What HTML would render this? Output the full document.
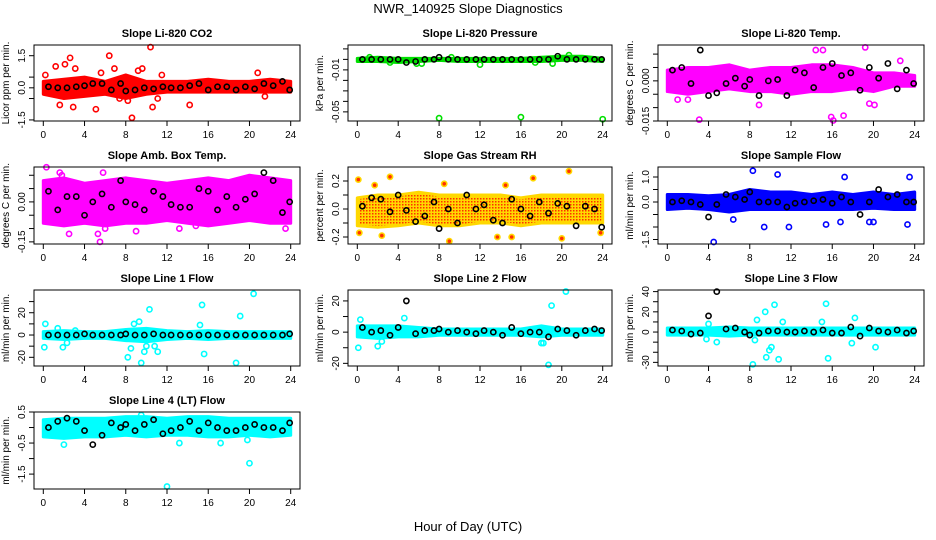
<!DOCTYPE html>
<html><head><meta charset="utf-8"><style>
body{margin:0;background:#fff}
svg{display:block;font-family:"Liberation Sans",sans-serif}
.tl{font-size:10px}
.tt{font-size:11px;font-weight:bold}
</style></head><body>
<svg id="c" width="936" height="540" viewBox="0 0 936 540">
<defs><pattern id="rhp" width="3" height="3" patternUnits="userSpaceOnUse"><rect width="3" height="3" fill="#ffd800"/><rect width="1.5" height="1.5" fill="#ff3000"/></pattern></defs>
<text x="468" y="13" text-anchor="middle" font-size="13">NWR_140925  Slope Diagnostics</text>
<text x="468" y="531" text-anchor="middle" font-size="13">Hour of Day (UTC)</text>
</svg>
<script>
const xTicks=[0,4,8,12,16,20,24];
const bandX=[0,2,4,6,8,10,12,14,16,18,20,22,24];
const blackX=[0.5,1.4,2.3,3.2,4.0,4.8,5.7,6.6,7.5,8.0,8.9,9.8,10.7,11.6,12.4,13.3,14.2,15.1,16.0,16.9,17.8,18.7,19.6,20.5,21.4,22.3,23.2,23.9];

const co2Lo=[-0.3,-0.5,-0.4,-0.3,-0.5,-0.3,-0.2,-0.2,-0.2,-0.2,-0.2,-0.2,-0.2];
const co2Hi=[0.3,0.4,0.5,0.3,0.6,0.3,0.3,0.3,0.4,0.3,0.3,0.4,0.3];
const co2OutX=[0.2,1.2,2.1,2.6,3.1,1.6,2.9,5.1,5.6,6.4,6.9,8.2,8.6,9.2,9.6,10.4,10.6,11.5,14.2,20.8,21.5,11.1,7.4];
const co2OutY=[0.6,1.0,1.1,1.4,0.9,-0.8,-0.9,-1.0,0.7,1.5,0.9,-0.6,-1.4,0.8,0.9,1.9,-0.9,0.6,-0.8,0.7,-0.4,-0.5,-0.5];
const co2Black=[0.05,0.0,0.0,0.05,0.1,0.2,0.2,-0.1,0.2,-0.15,-0.1,0.0,-0.05,0.05,0.0,0.0,0.1,0.2,-0.1,0.05,0.05,-0.1,0.05,-0.05,0.2,0.1,0.3,-0.1];

const presLo=[-0.002,-0.002,-0.003,-0.002,-0.001,-0.002,-0.002,-0.002,-0.002,-0.002,-0.001,-0.001,-0.002];
const presHi=[0.001,0.002,0.001,0.001,0.001,0.001,0.001,0.001,0.001,0.002,0.003,0.003,0.001];
const presOutX=[8.0,12.0,16.0,24.0,3.2,6.3,5.8,1.2,17.4,19.1,20.7,9.2];
const presOutY=[-0.056,-0.005,-0.055,-0.057,-0.003,-0.004,-0.004,0.002,-0.003,-0.004,0.004,0.002];
const presBlack=[0,0,0,0,0,-0.003,-0.002,0,0,0.002,0,0,0,0,0,0,0,0,0,0,0,0,0.003,0,0,0,0,0];

const ltLo=[-0.004,-0.005,-0.004,-0.003,-0.004,-0.004,-0.005,-0.004,-0.004,-0.003,-0.004,-0.002,-0.002];
const ltHi=[0.004,0.005,0.005,0.006,0.004,0.005,0.005,0.006,0.006,0.005,0.003,0.003,0.002];
const ltOutX=[3.1,15.9,16.1,19.6,19.2,15.1,14.4,8.9,1.0,2.0,17.1,20.1,22.6];
const ltOutY=[-0.0145,-0.0135,-0.0148,-0.0085,0.0125,0.0115,0.0115,-0.009,-0.007,-0.007,-0.013,-0.009,0.0075];
const ltBlack=[0.004,0.005,-0.001,0.0115,-0.0055,-0.0045,-0.001,0.001,-0.002,0.0005,-0.0055,0,0.0005,-0.0055,0.004,0.003,-0.0025,0.005,0.0065,0.002,0.003,-0.0035,0.005,0.001,0.0065,-0.003,0.004,-0.001];

const abLo=[-0.08,-0.09,-0.08,-0.09,-0.08,-0.08,-0.07,-0.08,-0.09,-0.08,-0.07,-0.08,-0.08];
const abHi=[0.08,0.09,0.07,0.08,0.09,0.08,0.07,0.08,0.09,0.08,0.1,0.09,0.08];
const abOutX=[0.3,5.5,1.6,9.0,5.8,2.5,6.0,14.8,23.5,13.2,1.8,5.3];
const abOutY=[0.13,-0.15,0.11,-0.11,0.11,-0.12,-0.1,-0.09,-0.1,-0.1,0.1,-0.12];
const abBlack=[0.04,-0.03,0.02,0.02,-0.05,0.0,0.03,-0.02,0.08,0.0,-0.01,-0.03,0.04,0.02,-0.01,-0.02,-0.02,0.05,0.04,-0.03,0.02,-0.02,0.01,0.03,0.11,0.08,-0.04,0.0];

const rhLo=[-0.12,-0.13,-0.12,-0.1,-0.12,-0.12,-0.1,-0.1,-0.12,-0.1,-0.1,-0.1,-0.1];
const rhHi=[0.08,0.1,0.1,0.12,0.1,0.1,0.1,0.1,0.08,0.1,0.1,0.1,0.1];
const rhOutX=[0.1,0.2,2.4,3.2,9.0,20.7,17.2,13.7,15.1,20.0,23.8,1.7,8.5,14.5];
const rhOutY=[0.21,-0.17,-0.19,0.23,-0.23,0.27,0.22,-0.2,-0.2,-0.21,-0.17,0.17,0.18,0.17];
const rhBlack=[0.02,0.08,0.07,-0.02,0.1,-0.01,-0.09,-0.05,0.05,-0.14,0.0,-0.1,0.1,0.0,0.03,-0.08,-0.1,0.07,0.0,-0.05,0.05,-0.03,0.04,0.02,-0.12,0.02,0.0,-0.13];

const sfLo=[-0.3,-0.25,-0.3,-0.4,-0.3,-0.3,-0.3,-0.3,-0.3,-0.3,-0.25,-0.3,-0.3];
const sfHi=[0.3,0.3,0.25,0.3,0.5,0.4,0.4,0.3,0.4,0.3,0.4,0.3,0.4];
const sfOutX=[8.3,10.7,19.6,23.5,4.5,6.4,9.4,11.8,15.4,20.0,23.3,16.8,17.2];
const sfOutY=[1.25,1.1,-0.8,1.0,-1.6,-0.7,-1.0,-1.0,-0.9,-0.8,-0.9,-0.8,1.0];
const sfBlack=[0.0,0.05,0.0,-0.1,-0.6,-0.1,0.3,0.2,0.1,0.4,0.0,0.0,0.0,-0.2,-0.05,0.0,0.05,0.1,-0.05,0.2,0.0,-0.5,0.0,0.5,0.2,0.3,0.0,0.0];

const l1Lo=[-3,-4,-3,-3,-5,-6,-4,-3,-4,-3,-3,-3,-3];
const l1Hi=[3,4,3,3,5,6,4,3,4,3,3,3,3];
const l1OutX=[0.1,0.2,1.9,2.3,8.2,8.5,8.8,9.3,9.5,9.8,10.0,10.3,10.8,11.1,15.2,15.4,15.6,19.1,18.7,20.4,1.4,3.1];
const l1OutY=[-11,10,-11,-7,-20,-12,10,12,-25,-15,-10,23,-10,-15,9,27,-17,17,-25,37,6,4];
const l1Black=[0,0,0,0,1,0,0,0,0,1,0,0,1,0,0,0,0,0,0,0,0,0,0,0,0,0,0,1];

const l2Lo=[-3,-4,-3,-3,-2,-2,-2,-2,-2,-3,-2,-2,-2];
const l2Hi=[4,4,4,3,2,2,2,2,2,4,2,2,2];
const l2OutX=[0.1,0.3,2.0,2.4,4.6,18.0,18.7,19.0,20.4,18.2];
const l2OutY=[-10,8,-9,-6,9,-7,-21,17,26,-7];
const l2Black=[3,0,1,-2,3,20,-1,1,1,2,0,1,0,-1,1,0,-2,3,-1,0,0,-3,2,1,-2,1,2,1];

const l3Lo=[-3,-3,-3,-4,-3,-3,-3,-3,-3,-3,-3,-3,-3];
const l3Hi=[4,4,4,5,4,4,4,4,4,4,4,4,4];
const l3OutX=[3.8,4.8,8.3,8.7,9.5,9.6,9.9,10.1,10.4,10.8,11.2,15.0,15.4,15.6,17.9,18.2,20.2,4.0,8.5];
const l3OutY=[-7,-10,-32,12,20,-25,-18,-15,27,-27,10,10,28,-26,-11,14,-15,8,-8];
const l3Black=[2,1,-2,-1,16,40,3,4,0,-3,-1,1,1,0,0,1,0,2,-1,-1,5,-4,4,1,0,2,-1,1];

const l4Lo=[-0.3,-0.35,-0.3,-0.3,-0.25,-0.3,-0.25,-0.25,-0.3,-0.3,-0.25,-0.3,-0.25];
const l4Hi=[0.25,0.3,0.3,0.3,0.35,0.35,0.3,0.35,0.35,0.3,0.3,0.3,0.3];
const l4OutX=[12.0,20.0,2.0,13.2,17.2,19.8,9.5];
const l4OutY=[-1.9,-1.15,-0.55,-0.5,-0.5,-0.4,0.4];
const l4Black=[0.0,0.2,0.3,0.2,-0.1,-0.55,-0.25,0.15,0.0,0.1,-0.1,0.1,0.25,-0.2,-0.1,0.0,0.2,-0.1,0.15,0.0,-0.1,-0.1,0.0,0.1,0.0,0.0,-0.1,0.15];

const cols=[[34,300],[348,612],[658,924]];
const rows=[[45,121],[167,244],[290,366],[412,489]];
const NS='http://www.w3.org/2000/svg';
const svg=document.getElementById('c');
function el(tag,attrs,parent){const e=document.createElementNS(NS,tag);for(const k in attrs)e.setAttribute(k,attrs[k]);(parent||svg).appendChild(e);return e;}

const panels=[
 {key:'co2',title:'Slope Li-820 CO2',ylab:'Licor ppm per min.',c:0,r:0,dom:[-1.55,2.0],ticks:[-1.5,-0.5,0,0.5,1.5],labs:{'-1.5':'-1.5','0':'0.0','1.5':'1.5'},col:'#ff0000',lo:co2Lo,hi:co2Hi,ox:co2OutX,oy:co2OutY,bk:co2Black},
 {key:'pressure',title:'Slope Li-820 Pressure',ylab:'kPa per min.',c:1,r:0,dom:[-0.0587,0.0137],ticks:[-0.06,-0.05,-0.04,-0.03,-0.02,-0.01,0,0.01],labs:{'-0.05':'-0.05','-0.01':'-0.01'},col:'#00e000',lo:presLo,hi:presHi,ox:presOutX,oy:presOutY,bk:presBlack},
 {key:'li820-temp',title:'Slope Li-820 Temp.',ylab:'degrees C per min.',c:2,r:0,dom:[-0.015,0.0134],ticks:[-0.015,-0.01,-0.005,0,0.005,0.01],labs:{'-0.015':'-0.015','0':'0.000'},col:'#ff00ff',lo:ltLo,hi:ltHi,ox:ltOutX,oy:ltOutY,bk:ltBlack},
 {key:'amb-box-temp',title:'Slope Amb. Box Temp.',ylab:'degrees C per min.',c:0,r:1,dom:[-0.158,0.131],ticks:[-0.15,-0.1,-0.05,0,0.05,0.1],labs:{'-0.15':'-0.15','0':'0.00'},col:'#ff00ff',lo:abLo,hi:abHi,ox:abOutX,oy:abOutY,bk:abBlack},
 {key:'gas-stream-rh',title:'Slope Gas Stream RH',ylab:'percent per min.',c:1,r:1,dom:[-0.25,0.3],ticks:[-0.2,-0.1,0,0.1,0.2],labs:{'-0.2':'-0.2','0':'0.0','0.2':'0.2'},col:'#ffd800',fill:'url(#rhp)',lo:rhLo,hi:rhHi,ox:rhOutX,oy:rhOutY,bk:rhBlack},
 {key:'sample-flow',title:'Slope Sample Flow',ylab:'ml/min per min.',c:2,r:1,dom:[-1.68,1.4],ticks:[-1.5,-1,-0.5,0,0.5,1],labs:{'-1.5':'-1.5','0':'0.0','1':'1.0'},col:'#0000ff',lo:sfLo,hi:sfHi,ox:sfOutX,oy:sfOutY,bk:sfBlack},
 {key:'line1-flow',title:'Slope Line 1 Flow',ylab:'ml/min per min.',c:0,r:2,dom:[-27.8,40.4],ticks:[-20,-10,0,10,20,30],labs:{'-20':'-20','0':'0','20':'20'},col:'#00ffff',lo:l1Lo,hi:l1Hi,ox:l1OutX,oy:l1OutY,bk:l1Black},
 {key:'line2-flow',title:'Slope Line 2 Flow',ylab:'ml/min per min.',c:1,r:2,dom:[-21.7,27],ticks:[-20,-10,0,10,20],labs:{'-20':'-20','0':'0','20':'20'},col:'#00ffff',lo:l2Lo,hi:l2Hi,ox:l2OutX,oy:l2OutY,bk:l2Black},
 {key:'line3-flow',title:'Slope Line 3 Flow',ylab:'ml/min per min.',c:2,r:2,dom:[-33.6,41.6],ticks:[-30,-20,-10,0,10,20,30,40],labs:{'-30':'-30','0':'0','20':'20','40':'40'},col:'#00ffff',lo:l3Lo,hi:l3Hi,ox:l3OutX,oy:l3OutY,bk:l3Black},
 {key:'line4-flow',title:'Slope Line 4 (LT) Flow',ylab:'ml/min per min.',c:0,r:3,dom:[-1.98,0.5],ticks:[-1.5,-1,-0.5,0,0.5],labs:{'-1.5':'-1.5','-0.5':'-0.5','0.5':'0.5'},col:'#00ffff',lo:l4Lo,hi:l4Hi,ox:l4OutX,oy:l4OutY,bk:l4Black}
];

panels.forEach(p=>{
 const [L,R]=cols[p.c],[T,B]=rows[p.r];
 const x0=L+9.3,x1=R-9.3;
 const xs=v=>x0+(x1-x0)*v/24;
 const ys=v=>B-(B-T)*(v-p.dom[0])/(p.dom[1]-p.dom[0]);
 const g=el('g',{});
 
 
 const t=el('text',{x:(L+R)/2,y:T-8,'text-anchor':'middle',class:'tt'},g);t.textContent=p.title;
 
 
 // band
 let pts=bandX.map((h,i)=>xs(h)+','+ys(p.hi[i]));
 pts=pts.concat(bandX.map((h,i)=>xs(h)+','+ys(p.lo[i])).reverse());
 const band=el('polygon',{points:pts.join(' '),fill:p.fill||p.col,stroke:p.col,'stroke-width':3,'stroke-linejoin':'round'},g);
 
 
 p.ox.forEach((h,i)=>{
  const c=el('circle',{cx:xs(h),cy:ys(p.oy[i]),r:2.6,fill:p.fill?'#ff3000':'none',stroke:p.col,'stroke-width':1.6},g);
  
  
 });
 blackX.forEach((h,i)=>{
  const c=el('circle',{cx:xs(h),cy:ys(p.bk[i]),r:2.6,fill:'none',stroke:'#000','stroke-width':1.6},g);
  
  
 });
 const box=el('rect',{x:L,y:T,width:R-L,height:B-T,fill:'none',stroke:'#000','stroke-width':1},g);
 
 
 xTicks.forEach(v=>{
  el('line',{x1:xs(v),x2:xs(v),y1:B,y2:B+5,stroke:'#000'},g);
  const tx=el('text',{x:xs(v),y:B+17,'text-anchor':'middle',class:'tl'},g);tx.textContent=v;
  
  
 });
 p.ticks.forEach(v=>{
  const y=ys(v);
  if(y<T-1||y>B+1)return;
  el('line',{x1:L-5,x2:L,y1:y,y2:y,stroke:'#000'},g);
  const lab=p.labs[String(v)];
  if(lab){
   const ty=el('text',{x:L-9,y:y,'text-anchor':'middle',class:'tl',transform:`rotate(-90 ${L-9} ${y})`},g);ty.textContent=lab;
   
   
  }
 });
 const yl=el('text',{x:L-25,y:(T+B)/2,'text-anchor':'middle',class:'tl',transform:`rotate(-90 ${L-25} ${(T+B)/2})`},g);yl.textContent=p.ylab;
 
 
});
</script>
</body></html>
